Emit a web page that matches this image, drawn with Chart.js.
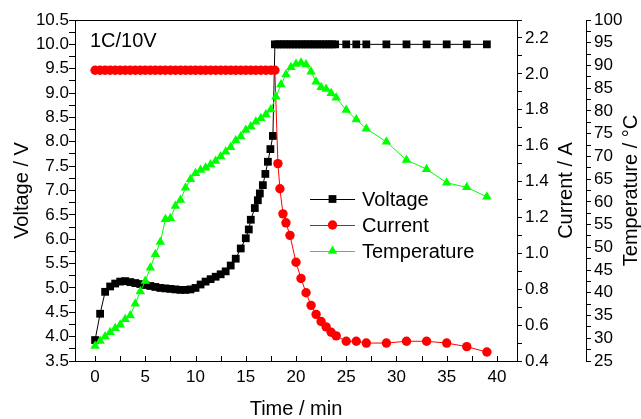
<!DOCTYPE html>
<html>
<head>
<meta charset="utf-8">
<script src="https://cdn.jsdelivr.net/npm/chart.js@4"></script>
<style>
  html, body { margin: 0; padding: 0; background: #fff; }
  #wrap { width: 641px; height: 419px; }
</style>
</head>
<body>
<div id="wrap"><canvas id="chargeChart"></canvas></div>
<script>
// Charging at 1C up to 10 V: voltage, current and temperature vs time
const voltageTime = [
    0, 0.5, 1, 1.5, 2, 2.5, 3, 3.5, 4, 4.5, 5, 5.5, 6, 6.5, 7, 7.5, 8, 8.5, 9, 9.5,
    10, 10.5, 11, 11.5, 12, 12.5, 13, 13.5, 14, 14.5, 15, 15.3, 15.5, 15.9, 16.2, 16.4,
    16.7, 16.95, 17.2, 17.45, 17.7, 17.9, 18.2, 18.5, 18.8, 19.1, 19.4, 19.7, 20, 20.3,
    20.6, 20.9, 21.2, 21.5, 21.8, 22.1, 22.4, 22.7, 23, 23.3, 23.6, 23.9,
    25, 26, 27, 29, 31, 33, 35, 37, 39
];
const voltageValues = [
    3.93, 4.47, 4.92, 5.03, 5.09, 5.13, 5.14, 5.12, 5.10, 5.08, 5.06, 5.04, 5.02, 5.00, 4.99, 4.98, 4.97, 4.96, 4.96, 4.97,
    5.00, 5.07, 5.13, 5.18, 5.23, 5.28, 5.34, 5.46, 5.60, 5.81, 6.02, 6.20, 6.40, 6.64, 6.80, 6.94,
    7.11, 7.34, 7.59, 7.85, 8.12, 10.0, 10.0, 10.0, 10.0, 10.0, 10.0, 10.0, 10.0, 10.0,
    10.0, 10.0, 10.0, 10.0, 10.0, 10.0, 10.0, 10.0, 10.0, 10.0, 10.0, 10.0,
    10.0, 10.0, 10.0, 10.0, 10.0, 10.0, 10.0, 10.0, 10.0
];

const currentTime = [
    0, 0.5, 1, 1.5, 2, 2.5, 3, 3.5, 4, 4.5, 5, 5.5, 6, 6.5, 7, 7.5, 8, 8.5,
    9, 9.5, 10, 10.5, 11, 11.5, 12, 12.5, 13, 13.5, 14, 14.5, 15, 15.5, 16, 16.5, 17, 17.5,
    17.9, 18.2, 18.4, 18.7, 19, 19.4, 20, 20.5, 21, 21.5, 22, 22.5, 23, 23.5, 24,
    25, 26, 27, 29, 31, 33, 35, 37, 39
];
const currentValues = [
    2.02, 2.02, 2.02, 2.02, 2.02, 2.02, 2.02, 2.02, 2.02, 2.02, 2.02, 2.02, 2.02, 2.02, 2.02, 2.02, 2.02, 2.02,
    2.02, 2.02, 2.02, 2.02, 2.02, 2.02, 2.02, 2.02, 2.02, 2.02, 2.02, 2.02, 2.02, 2.02, 2.02, 2.02, 2.02, 2.02,
    2.02, 1.50, 1.36, 1.22, 1.17, 1.10, 0.95, 0.86, 0.78, 0.71, 0.66, 0.62, 0.59, 0.56, 0.54,
    0.51, 0.51, 0.50, 0.50, 0.51, 0.51, 0.50, 0.48, 0.45
];

const tempTime = [
    0, 0.5, 1, 1.5, 2, 2.5, 3, 3.5, 4, 4.5, 5, 5.5, 6, 6.5, 7, 7.5, 8, 8.5, 9, 9.5,
    10, 10.5, 11, 11.5, 12, 12.5, 13, 13.5, 14, 14.5, 15, 15.5, 16, 16.5, 17, 17.5,
    18, 18.5, 19, 19.5, 20, 20.5, 21, 21.5, 22, 22.5, 23, 23.5, 24,
    25, 26, 27, 29, 31, 33, 35, 37, 39
];
const tempValues = [
    28.3, 29.4, 30.4, 31.3, 32.2, 33.0, 34.2, 35.0, 37.6, 40.3, 42.6, 45.5, 48.5, 51.2, 56.2, 56.4, 59.1, 60.4, 63.1, 65.0,
    66.3, 67.0, 67.5, 68.2, 69.0, 70.0, 71.0, 72.0, 73.5, 74.4, 75.8, 76.6, 77.6, 78.4, 79.2, 80.3,
    83.1, 85.8, 88.0, 89.6, 90.3, 90.6, 90.2, 88.6, 86.4, 85.2, 84.8, 83.9, 82.9,
    80.2, 78.1, 76.1, 73.2, 69.2, 67.2, 64.2, 63.2, 61.1
];

const toPoints = (xs, ys) => xs.map((x, i) => ({ x: x, y: ys[i] }));

const FONT = '"Liberation Sans", Arial, Helvetica, sans-serif';
Chart.defaults.font.family = FONT;
Chart.defaults.font.size = 17;
Chart.defaults.color = '#000';

// frame top line, inward x ticks, right-hand titles, note and legend
const framePlugin = {
    id: 'frame',
    afterDraw(chart) {
        const { ctx, chartArea: a, scales } = chart;
        ctx.save();
        ctx.strokeStyle = '#000';
        ctx.lineWidth = 1;
        ctx.beginPath();
        ctx.moveTo(a.left, a.top + 0.5);
        ctx.lineTo(a.right, a.top + 0.5);
        scales.x.ticks.forEach(t => {
            const px = Math.round(scales.x.getPixelForValue(t.value)) + 0.5;
            ctx.moveTo(px, a.bottom);
            ctx.lineTo(px, a.bottom - 5);
        });
        ctx.stroke();

        ctx.fillStyle = '#000';
        ctx.font = '20px ' + FONT;
        ctx.textBaseline = 'alphabetic';
        ctx.textAlign = 'left';
        ctx.fillText('1C/10V', 90, 47);

        const midY = (a.top + a.bottom) / 2;
        [['Current / A', 572], ['Temperature / \u00B0C', 637]].forEach(([text, bx]) => {
            ctx.save();
            ctx.translate(bx, midY);
            ctx.rotate(-Math.PI / 2);
            ctx.textAlign = 'center';
            ctx.fillText(text, 0, 0);
            ctx.restore();
        });

        chart.data.datasets.forEach((ds, i) => {
            const ly = 199 + 26 * i;
            ctx.strokeStyle = ds.borderColor;
            ctx.fillStyle = ds.pointBackgroundColor;
            ctx.beginPath();
            ctx.moveTo(310, ly + 0.5);
            ctx.lineTo(355, ly + 0.5);
            ctx.stroke();
            Chart.helpers.drawPoint(ctx, {
                pointStyle: ds.pointStyle, radius: ds.pointRadius, rotation: 0, borderWidth: 0
            }, 332.5, ly);
            ctx.fillStyle = '#000';
            ctx.textAlign = 'left';
            ctx.fillText(ds.label, 362, ly + 6.5);
        });
        ctx.restore();
    }
};

const ctx = document.getElementById('chargeChart').getContext('2d');
const chargeChart = new Chart(ctx, {
    type: 'line',
    data: {
        datasets: [{
            label: 'Voltage',
            data: toPoints(voltageTime, voltageValues),
            yAxisID: 'y',
            borderColor: '#000000',
            borderWidth: 1,
            pointStyle: 'rect',
            pointRadius: 5.5,
            pointBackgroundColor: '#000000',
            pointBorderWidth: 0,
            order: 3
        }, {
            label: 'Current',
            data: toPoints(currentTime, currentValues),
            yAxisID: 'yCur',
            borderColor: '#ff0000',
            borderWidth: 1,
            pointStyle: 'circle',
            pointRadius: 4.7,
            pointBackgroundColor: '#ff0000',
            pointBorderWidth: 0,
            order: 2
        }, {
            label: 'Temperature',
            data: toPoints(tempTime, tempValues),
            yAxisID: 'yTemp',
            borderColor: '#00ff00',
            borderWidth: 1,
            pointStyle: 'triangle',
            pointRadius: 5.5,
            pointBackgroundColor: '#00ff00',
            pointBorderWidth: 0,
            order: 1
        }]
    },
    options: {
        responsive: true,
        maintainAspectRatio: false,
        animation: false,
        layout: { padding: { top: 20, left: 0, right: 0, bottom: 0 } },
        plugins: {
            legend: { display: false },
            tooltip: { enabled: false }
        },
        scales: {
            x: {
                type: 'linear',
                position: 'bottom',
                min: -2,
                max: 42,
                grid: { drawOnChartArea: false, drawTicks: false },
                border: { color: '#000', width: 1 },
                ticks: {
                    stepSize: 2.5,
                    includeBounds: false,
                    autoSkip: false,
                    maxRotation: 0,
                    padding: 6,
                    callback: v => (v % 5 === 0 ? String(v) : '')
                },
                title: {
                    display: true, text: 'Time / min',
                    font: { size: 20, lineHeight: 1 },
                    padding: { top: 0, bottom: 0 }
                },
                afterFit: s => { s.height = 58; }
            },
            y: {
                position: 'left',
                min: 3.5,
                max: 10.5,
                grid: { drawOnChartArea: false, tickLength: 6, color: '#000' },
                border: { color: '#000', width: 1 },
                ticks: {
                    stepSize: 0.25,
                    autoSkip: false,
                    padding: 0,
                    callback: v => (Math.round(v * 4) % 2 === 0 ? v.toFixed(1) : '')
                },
                title: {
                    display: true, text: 'Voltage / V',
                    font: { size: 20, lineHeight: 1 },
                    padding: { top: 12, bottom: 0 }
                },
                afterFit: s => { s.width = 75; }
            },
            yCur: {
                position: 'right',
                weight: 1,
                min: 0.4,
                max: 2.3,
                grid: { drawOnChartArea: false, tickLength: 5, color: '#000' },
                border: { color: '#000', width: 1 },
                ticks: {
                    stepSize: 0.1,
                    autoSkip: false,
                    padding: 3,
                    callback: v => (Math.round(v * 10) % 2 === 0 ? v.toFixed(1) : '')
                },
                afterFit: s => { s.width = 69; }
            },
            yTemp: {
                position: 'right',
                weight: 2,
                min: 25,
                max: 100,
                grid: { drawOnChartArea: false, tickLength: 5, color: '#000' },
                border: { color: '#000', width: 1 },
                ticks: {
                    stepSize: 2.5,
                    autoSkip: false,
                    padding: 3,
                    callback: v => (v % 5 === 0 ? String(v) : '')
                },
                afterFit: s => { s.width = 55; }
            }
        }
    },
    plugins: [framePlugin]
});
</script>
</body>
</html>
